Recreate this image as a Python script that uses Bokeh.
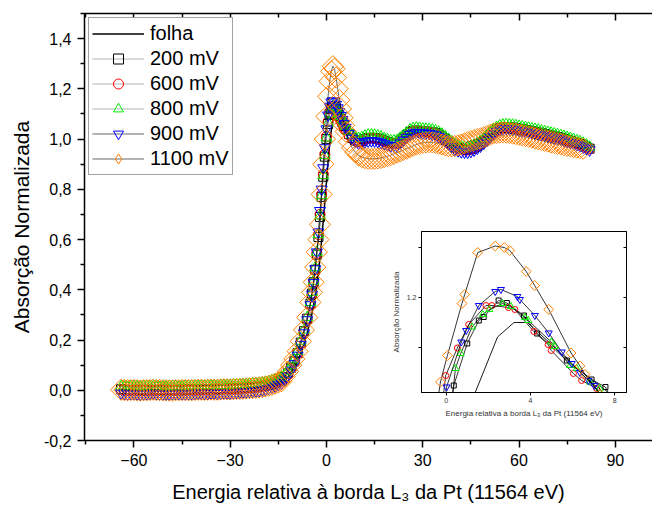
import math
from bokeh.plotting import figure
from bokeh.models import (FixedTicker, LinearAxis, CustomJSTickFormatter, Legend,
                          LegendItem, GridBox, Range1d)
from bokeh.embed import file_html
from bokeh.resources import INLINE

FONT = "Liberation Sans"

# ---------------- main chart data ----------------
energia = [-64, -63, -62, -61, -60, -59, -58, -57, -56, -55, -54, -53, -52, -51, -50, -49,
           -48, -47, -46, -45, -44, -43, -42, -41, -40, -39, -38, -37, -36, -35, -34, -33,
           -32, -31, -30, -29, -28, -27, -26, -25, -24, -23, -22, -21, -20, -19, -18, -17,
           -16, -15, -14,
           -13, -12, -11, -10, -9, -8, -7, -6, -5,
           -4.5, -4, -3.5, -3, -2.5, -2, -1.5, -1, -0.5, 0, 0.5, 1, 1.5, 2, 2.5, 3, 3.5,
           4, 4.5, 5, 5.5, 6,
           7, 8, 9, 10, 11, 12, 13, 14, 15, 16, 17, 18, 19, 20,
           21, 22, 23, 24, 25, 26, 27, 28, 29, 30, 31, 32, 33, 34, 35, 36, 37, 38, 39, 40,
           41, 42, 43, 44, 45, 46, 47, 48, 49, 50, 51, 52, 53, 54, 55, 56, 57, 58, 59, 60,
           61, 62, 63, 64, 65, 66, 67, 68, 69, 70, 71, 72, 73, 74, 75, 76, 77, 78, 79, 80,
           81, 82]

folha = [0.003, 0.002, 0.001, 0.001, 0.0, 0.0, 0.001, 0.001, 0.0, 0.0,
         0.001, 0.001, 0.0, 0.0, 0.001, 0.001, 0.0, 0.001, 0.001, 0.001,
         0.001, 0.002, 0.002, 0.001, 0.002, 0.002, 0.003, 0.003, 0.003, 0.003,
         0.003, 0.004, 0.004, 0.004, 0.005, 0.005, 0.006, 0.006, 0.007, 0.007,
         0.008, 0.009, 0.010, 0.011, 0.013, 0.015, 0.017, 0.020, 0.024, 0.028, 0.033,
         0.041, 0.053, 0.069, 0.089, 0.115, 0.147, 0.185, 0.228, 0.278,
         0.307, 0.34, 0.378, 0.422, 0.472, 0.53, 0.6, 0.675, 0.75, 0.83, 0.91, 0.98, 1.035,
         1.075, 1.1, 1.112, 1.115, 1.11, 1.1, 1.087, 1.072, 1.058,
         1.033, 1.013, 0.999, 0.992, 0.993, 0.999, 1.003, 1.004, 1.003, 1.001, 0.997, 0.992,
         0.987, 0.983,
         0.982, 0.984, 0.993, 1.004, 1.015, 1.026, 1.031, 1.033, 1.032, 1.03,
         1.029, 1.028, 1.026, 1.023, 1.017, 1.009, 0.999, 0.989, 0.979, 0.969,
         0.963, 0.959, 0.957, 0.957, 0.96, 0.965, 0.972, 0.981, 0.991, 1.003,
         1.015, 1.027, 1.036, 1.042, 1.045, 1.047, 1.046, 1.045, 1.043, 1.04,
         1.038, 1.035, 1.033, 1.03, 1.028, 1.025, 1.022, 1.019, 1.016, 1.013,
         1.01, 1.007, 1.004, 1.0, 0.996, 0.992, 0.988, 0.983, 0.979, 0.974,
         0.968, 0.961]

mv200 = [0.004, 0.002, 0.001, 0.0, 0.0, 0.001, 0.002, 0.0, -0.001, 0.0,
         0.001, 0.001, 0.0, 0.001, 0.002, 0.001, 0.001, 0.0, 0.0, 0.001,
         0.002, 0.003, 0.003, 0.002, 0.001, 0.002, 0.002, 0.003, 0.004, 0.004,
         0.003, 0.004, 0.005, 0.005, 0.004, 0.005, 0.006, 0.007, 0.008, 0.009,
         0.010, 0.011, 0.012, 0.014, 0.016, 0.018, 0.021, 0.025, 0.030, 0.036, 0.042,
         0.052, 0.068, 0.09, 0.115, 0.148, 0.19, 0.235, 0.285, 0.345,
         0.385, 0.43, 0.48, 0.54, 0.61, 0.69, 0.77, 0.85, 0.93, 1.0, 1.06, 1.1, 1.12, 1.13,
         1.128, 1.12, 1.107, 1.093, 1.08, 1.066, 1.052, 1.04,
         1.02, 1.005, 0.995, 0.99, 0.993, 1.0, 1.004, 1.005, 1.004, 1.002, 0.998, 0.993,
         0.988, 0.984,
         0.983, 0.985, 0.994, 1.005, 1.016, 1.027, 1.032, 1.034, 1.033, 1.031,
         1.03, 1.029, 1.027, 1.024, 1.018, 1.01, 1.0, 0.99, 0.98, 0.97,
         0.964, 0.96, 0.958, 0.958, 0.961, 0.966, 0.973, 0.982, 0.992, 1.004,
         1.016, 1.028, 1.037, 1.043, 1.046, 1.048, 1.047, 1.046, 1.044, 1.041,
         1.039, 1.036, 1.034, 1.031, 1.029, 1.026, 1.023, 1.02, 1.017, 1.014,
         1.011, 1.008, 1.005, 1.001, 0.997, 0.993, 0.989, 0.984, 0.98, 0.975,
         0.969, 0.962]

mv600 = [0.002, 0.001, 0.0, 0.0, 0.001, 0.001, 0.0, -0.001, 0.001, 0.001,
         0.0, 0.001, 0.002, 0.001, 0.001, 0.0, 0.0, 0.001, 0.002, 0.002,
         0.001, 0.002, 0.003, 0.002, 0.003, 0.004, 0.004, 0.003, 0.004, 0.005,
         0.005, 0.004, 0.005, 0.006, 0.006, 0.007, 0.007, 0.008, 0.009, 0.010,
         0.011, 0.012, 0.013, 0.015, 0.017, 0.020, 0.023, 0.027, 0.032, 0.036, 0.040,
         0.05, 0.066, 0.088, 0.113, 0.146, 0.188, 0.232, 0.283, 0.342,
         0.383, 0.428, 0.48, 0.545, 0.62, 0.70, 0.78, 0.86, 0.94, 1.01, 1.07, 1.105, 1.12,
         1.125, 1.12, 1.11, 1.098, 1.085, 1.072, 1.06, 1.047, 1.035,
         1.016, 1.002, 0.993, 0.989, 0.992, 0.998, 1.002, 1.003, 1.002, 1.0, 0.996, 0.991,
         0.986, 0.982,
         0.981, 0.983, 0.992, 1.003, 1.014, 1.025, 1.03, 1.032, 1.031, 1.03,
         1.028, 1.027, 1.025, 1.022, 1.016, 1.008, 0.998, 0.988, 0.978, 0.968,
         0.962, 0.958, 0.957, 0.957, 0.96, 0.965, 0.972, 0.981, 0.991, 1.003,
         1.014, 1.026, 1.035, 1.041, 1.044, 1.046, 1.045, 1.044, 1.042, 1.039,
         1.037, 1.034, 1.032, 1.029, 1.027, 1.024, 1.021, 1.018, 1.015, 1.012,
         1.009, 1.006, 1.003, 0.999, 0.995, 0.991, 0.987, 0.982, 0.978, 0.973,
         0.967, 0.961]

mv800 = [0.014, 0.013, 0.012, 0.014, 0.015, 0.014, 0.013, 0.015, 0.016, 0.015,
         0.014, 0.013, 0.012, 0.014, 0.015, 0.016, 0.016, 0.015, 0.014, 0.015,
         0.015, 0.016, 0.017, 0.016, 0.015, 0.016, 0.016, 0.017, 0.018, 0.018,
         0.017, 0.018, 0.019, 0.020, 0.020, 0.021, 0.021, 0.022, 0.023, 0.024,
         0.024, 0.025, 0.026, 0.028, 0.029, 0.032, 0.034, 0.038, 0.042, 0.047, 0.052,
         0.062, 0.077, 0.098, 0.122, 0.155, 0.196, 0.24, 0.29, 0.35,
         0.39, 0.435, 0.488, 0.55, 0.62, 0.695, 0.775, 0.855, 0.935, 1.005, 1.065, 1.1, 1.12,
         1.13, 1.13, 1.124, 1.114, 1.102, 1.09, 1.077, 1.064, 1.052,
         1.032, 1.016, 1.007, 1.003, 1.006, 1.012, 1.016, 1.017, 1.016, 1.013, 1.009, 1.003,
         0.998, 0.994,
         0.993, 0.995, 1.004, 1.015, 1.026, 1.037, 1.042, 1.044, 1.043, 1.041,
         1.04, 1.039, 1.037, 1.034, 1.028, 1.02, 1.01, 1.0, 0.99, 0.98,
         0.974, 0.97, 0.968, 0.968, 0.971, 0.976, 0.983, 0.992, 1.002, 1.014,
         1.026, 1.038, 1.047, 1.053, 1.056, 1.058, 1.057, 1.056, 1.054, 1.051,
         1.049, 1.046, 1.044, 1.041, 1.039, 1.036, 1.033, 1.03, 1.027, 1.024,
         1.021, 1.018, 1.015, 1.011, 1.007, 1.003, 0.999, 0.994, 0.99, 0.984,
         0.977, 0.968]

mv900 = [-0.012, -0.014, -0.015, -0.014, -0.013, -0.015, -0.016, -0.015, -0.014, -0.013,
         -0.012, -0.014, -0.015, -0.016, -0.016, -0.015, -0.014, -0.013, -0.013, -0.014,
         -0.015, -0.014, -0.014, -0.013, -0.012, -0.012, -0.013, -0.013, -0.011, -0.011,
         -0.012, -0.012, -0.010, -0.010, -0.011, -0.010, -0.009, -0.008, -0.007, -0.006,
         -0.005, -0.004, -0.003, -0.001, 0.001, 0.004, 0.007, 0.011, 0.016, 0.022, 0.028,
         0.04, 0.056, 0.079, 0.105, 0.139, 0.182, 0.228, 0.28, 0.34,
         0.382, 0.428, 0.483, 0.55, 0.63, 0.715, 0.8, 0.885, 0.965, 1.04, 1.095, 1.13, 1.147,
         1.152, 1.148, 1.138, 1.124, 1.109, 1.093, 1.077, 1.061, 1.046,
         1.022, 1.003, 0.99, 0.983, 0.984, 0.989, 0.992, 0.993, 0.992, 0.99, 0.986, 0.981,
         0.976, 0.972,
         0.973, 0.974, 0.984, 0.995, 1.006, 1.018, 1.024, 1.026, 1.025, 1.024,
         1.023, 1.022, 1.019, 1.016, 1.009, 1.001, 0.991, 0.98, 0.969, 0.959,
         0.953, 0.949, 0.948, 0.948, 0.951, 0.956, 0.963, 0.972, 0.983, 0.995,
         1.007, 1.019, 1.029, 1.035, 1.039, 1.041, 1.04, 1.039, 1.037, 1.034,
         1.032, 1.029, 1.027, 1.024, 1.022, 1.019, 1.016, 1.013, 1.01, 1.007,
         1.004, 1.001, 0.998, 0.994, 0.99, 0.986, 0.982, 0.977, 0.973, 0.968,
         0.962, 0.956]

# 1100 mV stops at 80 eV (two points fewer than the shared energy grid)
mv1100 = [0.002, 0.001, 0.0, 0.001, 0.001, 0.0, -0.001, 0.0, 0.0, 0.001,
          0.002, 0.001, 0.001, 0.0, 0.0, -0.001, -0.001, 0.0, 0.0, 0.001,
          0.001, 0.0, 0.0, 0.001, 0.002, 0.002, 0.001, 0.002, 0.003, 0.002,
          0.002, 0.003, 0.004, 0.004, 0.003, 0.004, 0.005, 0.005, 0.006, 0.007,
          0.008, 0.009, 0.010, 0.011, 0.013, 0.015, 0.018, 0.021, 0.026, 0.031, 0.036,
          0.055, 0.075, 0.1, 0.125, 0.155, 0.195, 0.24, 0.29, 0.35,
          0.39, 0.43, 0.49, 0.55, 0.6, 0.66, 0.78, 0.9, 1.0, 1.09, 1.17, 1.23, 1.27, 1.29,
          1.28, 1.245, 1.2, 1.155, 1.12, 1.085, 1.055, 1.03,
          0.99, 0.965, 0.948, 0.935, 0.928, 0.924, 0.922, 0.921, 0.922, 0.923, 0.925, 0.928,
          0.932, 0.936,
          0.941, 0.946, 0.951, 0.957, 0.962, 0.968, 0.973, 0.978, 0.982, 0.985,
          0.987, 0.988, 0.987, 0.985, 0.982, 0.978, 0.975, 0.972, 0.971, 0.972,
          0.975, 0.978, 0.983, 0.988, 0.992, 0.996, 1.0, 1.003, 1.007, 1.012,
          1.017, 1.022, 1.024, 1.026, 1.027, 1.026, 1.024, 1.022, 1.02, 1.018,
          1.015, 1.012, 1.009, 1.006, 1.002, 0.999, 0.996, 0.993, 0.99, 0.987,
          0.984, 0.981, 0.979, 0.976, 0.973, 0.971, 0.968, 0.966, 0.964, 0.962]

# ---------------- inset data (peak region) ----------------
ins_folha_x = [1.2, 1.39, 2.44, 3.22, 3.85, 5.0, 6.0, 7.0, 7.67, 7.9]
ins_folha_y = [0.97, 1.01, 1.12, 1.149, 1.149, 1.105, 1.065, 1.032, 1.01, 1.0]
ins_200_x = [0.2, 0.36, 1.0, 1.55, 1.78, 2.49, 2.88, 3.69, 4.32, 5.73, 6.9, 7.56, 7.8]
ins_200_y = [0.98, 1.023, 1.107, 1.153, 1.16, 1.193, 1.188, 1.163, 1.127, 1.073, 1.035, 1.02, 1.0]
ins_600_x = [-0.2, -0.02, 0.53, 1.07, 1.89, 2.17, 2.96, 3.26, 4.16, 4.84, 4.99, 6.04, 6.43, 7.14, 7.4]
ins_600_y = [0.98, 1.043, 1.098, 1.145, 1.183, 1.183, 1.179, 1.175, 1.131, 1.105, 1.093, 1.047,
             1.033, 1.017, 1.0]
ins_800_x = [0.25, 0.44, 0.69, 1.23, 1.74, 2.05, 2.68, 3.07, 3.74, 3.9, 4.99, 5.15, 5.88, 6.2,
             6.82, 7.29, 7.5]
ins_800_y = [0.98, 1.057, 1.087, 1.14, 1.165, 1.175, 1.187, 1.181, 1.159, 1.153, 1.11, 1.101,
             1.063, 1.057, 1.03, 1.017, 1.0]
ins_900_x = [-0.1, 0.02, 0.72, 0.95, 1.55, 2.33, 2.6, 3.38, 3.5, 4.21, 4.87, 5.49, 5.96, 6.35,
             6.75, 7.03, 7.4]
ins_900_y = [0.98, 1.02, 1.11, 1.133, 1.183, 1.211, 1.215, 1.201, 1.195, 1.163, 1.128, 1.09,
             1.067, 1.049, 1.033, 1.023, 1.0]
ins_1100_x = [-0.45, -0.27, 0.06, 0.75, 0.88, 1.5, 2.33, 2.76, 3.02, 3.8, 4.2, 4.87, 5.93, 6.35,
              6.59, 7.3]
ins_1100_y = [0.98, 1.03, 1.083, 1.187, 1.205, 1.289, 1.302, 1.299, 1.293, 1.251, 1.223, 1.175,
              1.088, 1.062, 1.045, 1.005]

x_ticks = [-60, -30, 0, 30, 60, 90]
x_minor = [-75, -45, -15, 15, 45, 75]
y_ticks = [-0.2, 0.0, 0.2, 0.4, 0.6, 0.8, 1.0, 1.2, 1.4]
y_minor = [-0.1, 0.1, 0.3, 0.5, 0.7, 0.9, 1.1, 1.3, 1.5]

ORANGE = "#ff8000"
GREEN = "#00ee00"
BLUE = "#0000ff"
RED = "#ff0000"
GRAY = "#808080"

# ---------------- main figure ----------------
p = figure(width=652, height=508, output_backend="svg", toolbar_location=None,
           x_range=Range1d(-75.4, 101.6), y_range=Range1d(-0.2, 1.5),
           min_border_left=84, min_border_right=0, min_border_top=13, min_border_bottom=68)
p.outline_line_color = None
p.grid.visible = False

lf = p.line(energia, folha, line_color="black", line_width=1.5)
l200 = p.line(energia, mv200, line_color=GRAY, line_width=0.6)
s200 = p.scatter(energia, mv200, marker="square", size=9, line_color="black",
                 fill_alpha=0, line_width=1)
l600 = p.line(energia, mv600, line_color=GRAY, line_width=0.6)
s600 = p.scatter(energia, mv600, marker="circle", size=10, line_color=RED,
                 fill_alpha=0, line_width=1)
l800 = p.line(energia, mv800, line_color=GRAY, line_width=0.6)
s800 = p.scatter(energia, mv800, marker="triangle", size=11, line_color=GREEN,
                 fill_alpha=0, line_width=1)
l900 = p.line(energia, mv900, line_color="black", line_width=0.6)
s900 = p.scatter(energia, mv900, marker="inverted_triangle", size=11, line_color=BLUE,
                 fill_alpha=0, line_width=1)
e1100 = energia[:len(mv1100)]
l1100 = p.line(e1100, mv1100, line_color="black", line_width=0.6)
s1100 = p.scatter(e1100, mv1100, marker="square", angle=math.pi / 4, size=15,
                  line_color=ORANGE, fill_alpha=0, line_width=1)
# legend-only glyph (diamond, zero size in the plot itself)
d1100 = p.scatter(e1100[:1], mv1100[:1], marker="diamond", size=0, line_color=ORANGE,
                  fill_alpha=0, line_width=1)

xa = p.xaxis[0]
xa.ticker = FixedTicker(ticks=x_ticks, minor_ticks=x_minor)
ya = p.yaxis[0]
ya.ticker = FixedTicker(ticks=y_ticks, minor_ticks=y_minor)
ya.formatter = CustomJSTickFormatter(code="return tick.toFixed(1).replace('.', ',');")
xa.axis_label = "Energia relativa à borda L\u2083 da Pt (11564 eV)"
ya.axis_label = "Absorção Normalizada"
for ax, lab_size, tick_size in ((xa, "20px", "16px"), (ya, "21px", "16px")):
    ax.axis_line_width = 1.5
    ax.axis_line_color = "black"
    ax.major_tick_line_width = 1.5
    ax.minor_tick_line_width = 1.5
    ax.major_tick_out = 7
    ax.major_tick_in = 0
    ax.minor_tick_out = 4
    ax.minor_tick_in = 0
    ax.major_label_text_font = FONT
    ax.major_label_text_font_size = tick_size
    ax.major_label_text_color = "black"
    ax.axis_label_text_font = FONT
    ax.axis_label_text_font_size = lab_size
    ax.axis_label_text_font_style = "normal"
    ax.axis_label_text_color = "black"
xa.major_label_standoff = 6
xa.axis_label_standoff = 12
ya.major_label_standoff = 6
ya.axis_label_standoff = 8

top = LinearAxis(ticker=FixedTicker(ticks=x_ticks, minor_ticks=x_minor),
                 formatter=CustomJSTickFormatter(code="return '';"),
                 axis_line_width=1.5, major_tick_line_width=1.5, minor_tick_line_width=1.5,
                 major_tick_in=7, major_tick_out=0, minor_tick_in=4, minor_tick_out=0,
                 major_label_standoff=0, major_label_text_font_size="1px")
p.add_layout(top, "above")

legend = Legend(items=[
    LegendItem(label="folha", renderers=[lf]),
    LegendItem(label="200 mV", renderers=[l200, s200]),
    LegendItem(label="600 mV", renderers=[l600, s600]),
    LegendItem(label="800 mV", renderers=[l800, s800]),
    LegendItem(label="900 mV", renderers=[l900, s900]),
    LegendItem(label="1100 mV", renderers=[l1100, d1100]),
], location="top_left")
legend.margin = 4
legend.padding = 3
legend.glyph_width = 52
legend.glyph_height = 25
legend.spacing = 0
legend.label_height = 20
legend.label_standoff = 6
legend.label_text_font = FONT
legend.label_text_font_size = "20px"
legend.label_text_color = "black"
legend.border_line_color = "#444444"
legend.border_line_width = 1.5
legend.background_fill_color = "white"
legend.background_fill_alpha = 1.0
p.add_layout(legend)

# ---------------- inset ----------------
ins = figure(width=242, height=194, output_backend="svg", toolbar_location=None,
             x_range=Range1d(-1.17, 8.56), y_range=Range1d(1.009, 1.331),
             min_border_left=30, min_border_right=4, min_border_top=5, min_border_bottom=28)
ins.grid.visible = False
ins.outline_line_color = "black"
ins.outline_line_width = 1
ins.border_fill_alpha = 0

ins.line(ins_folha_x, ins_folha_y, line_color="black", line_width=0.9)
for xs, ys, mk, sz, col, ang in (
        (ins_200_x, ins_200_y, "square", 5, "black", 0),
        (ins_600_x, ins_600_y, "circle", 6, RED, 0),
        (ins_800_x, ins_800_y, "triangle", 7, GREEN, 0),
        (ins_900_x, ins_900_y, "inverted_triangle", 7, BLUE, 0),
        (ins_1100_x, ins_1100_y, "square", 7, ORANGE, math.pi / 4)):
    ins.line(xs, ys, line_color="black", line_width=0.8)
    ins.scatter(xs, ys, marker=mk, size=sz, angle=ang, line_color=col, fill_alpha=0,
                line_width=1)

ixa = ins.xaxis[0]
ixa.ticker = FixedTicker(ticks=[0, 4, 8])
iya = ins.yaxis[0]
iya.ticker = FixedTicker(ticks=[1.1, 1.2, 1.3])
iya.formatter = CustomJSTickFormatter(
    code="return Math.abs(tick - 1.2) < 1e-6 ? '1.2' : '';")
ixa.axis_label = "Energia relativa à borda L\u2083 da Pt (11564 eV)"
iya.axis_label = "Absorção Normalizada"
for ax in (ixa, iya):
    ax.axis_line_color = "black"
    ax.major_tick_out = 3
    ax.major_tick_in = 0
    ax.minor_tick_out = 0
    ax.minor_tick_in = 0
    ax.major_label_text_font = FONT
    ax.major_label_text_font_size = "7px"
    ax.major_label_text_color = "#333333"
    ax.major_label_standoff = 2
    ax.axis_label_text_font = FONT
    ax.axis_label_text_font_size = "8px"
    ax.axis_label_text_font_style = "normal"
    ax.axis_label_text_color = "#333333"
    ax.axis_label_standoff = 3

rax = LinearAxis(ticker=FixedTicker(ticks=[1.1, 1.2, 1.3]),
                 formatter=CustomJSTickFormatter(code="return '';"),
                 major_tick_in=3, major_tick_out=0, minor_tick_in=0, minor_tick_out=0,
                 major_label_standoff=0, major_label_text_font_size="1px")
ins.add_layout(rax, "right")

grid = GridBox(children=[(p, 0, 0, 3, 3), (ins, 1, 1)],
               rows=["226px", "194px", "88px"], cols=["388px", "242px", "22px"])

open("out.html", "w").write(file_html(grid, INLINE))
